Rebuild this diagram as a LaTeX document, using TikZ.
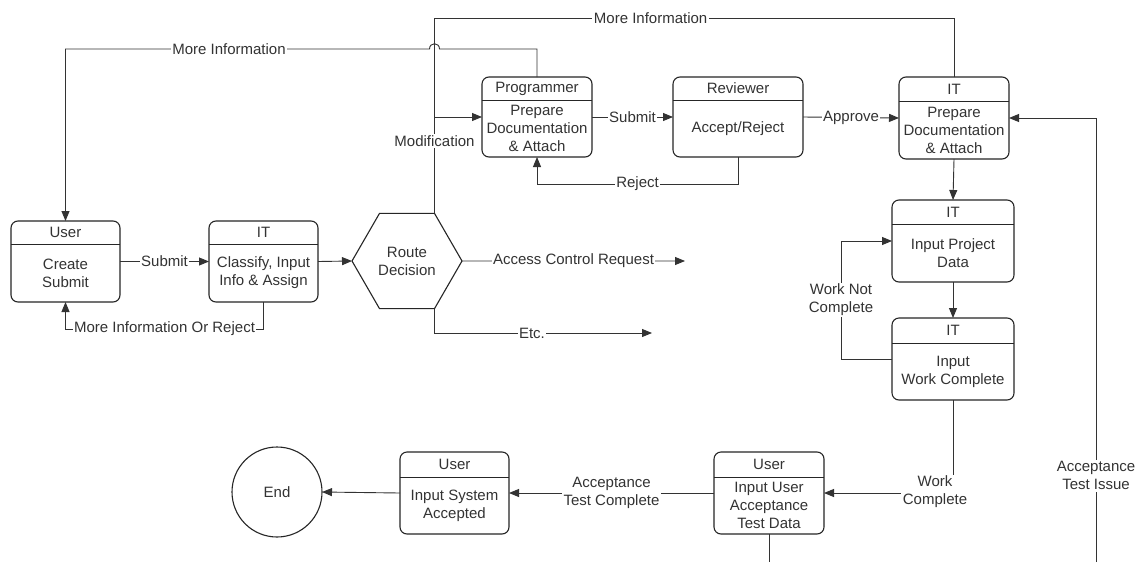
\documentclass[tikz,border=0pt]{standalone}
\usepackage{fontspec}
\setmainfont{Liberation Sans}
\usetikzlibrary{arrows.meta,shapes.geometric}
\newcommand{\procbox}[8]{%
  \node[pbox, minimum width={(#4-#2)*1pt}, minimum height={(#5-#3)*1pt}] (#1) at ({(#2+#4)/2},{(#3+#5)/2}) {};
  \draw[boxline] (#2,#6) -- (#4,#6);
  \node[txt] (#1-head) at ({(#2+#4)/2},{(#3+#6)/2}) {#7};
  \node[txt, align=center] (#1-body) at ({(#2+#4)/2},{(#6+#5)/2}) {#8};
}
\begin{document}
\begin{tikzpicture}[x=1pt,y=-1pt,
  txt/.style={font=\fontsize{15}{18}\selectfont, text=black!80, inner sep=0pt},
  pbox/.style={draw=black!85, line width=1.1pt, rounded corners=7pt, inner sep=0pt, outer sep=0pt},
  boxline/.style={draw=black!85, line width=1pt},
  conn/.style={draw=black!80, line width=0.9pt},
  arr/.style={conn, -{Triangle[length=10pt,width=8pt]}},
  lbl/.style={txt, fill=white, inner sep=1.5pt, align=center}]

\fill[white] (0,0) rectangle (1147,562);
\useasboundingbox (0,0) rectangle (1147,562);

% process boxes
\procbox{user}{11}{221}{120}{302}{244}{User}{Create\\Submit}
\procbox{itc}{209}{221}{318}{302}{244}{IT}{Classify, Input\\Info \& Assign}
\procbox{prog}{482}{77}{592}{157}{100}{Programmer}{Prepare\\Documentation\\\& Attach}
\procbox{rev}{673}{77}{803}{157}{100}{Reviewer}{Accept/Reject}
\procbox{itp}{899}{77}{1009}{159}{101}{IT}{Prepare\\Documentation\\\& Attach}
\procbox{itd}{892}{200}{1014}{282}{224}{IT}{Input Project\\Data}
\procbox{itw}{892}{318}{1014}{400}{343}{IT}{Input\\Work Complete}
\procbox{uat}{714}{452}{824}{534}{477}{User}{Input User\\Acceptance\\Test Data}
\procbox{isa}{400}{452}{509}{534}{477}{User}{Input System\\Accepted}

% decision hexagon and end
\node[txt, draw=black!85, line width=1.1pt, regular polygon, regular polygon sides=6,
      minimum size=110pt, outer sep=0pt, align=center] (hex) at (407,261) {Route\\Decision};
\node[txt, draw=black!85, line width=1.1pt, circle, minimum size=90pt, outer sep=0pt] (end) at (277,492) {End};

\coordinate (hexTR) at ([xshift=27.5pt]hex.north);
\coordinate (hexBR) at ([xshift=27.5pt]hex.south);
\coordinate (mj) at (434.5,117);
\coordinate (acr) at (685,261);
\coordinate (etc) at (652,333);
\coordinate (ati) at (1096,562);
\coordinate (uatend) at (769,562);

% connectors
\draw[arr] (user.east) -- node[lbl]{Submit} (itc.west);
\draw[arr] (itc.east) -- (hex.west);
\draw[arr] (itc.south) -- ++(0,27) -| node[lbl,pos=0.25]{More Information Or Reject} (user.south);
\draw[arr] (hex.east) -- node[lbl]{Access Control Request} (acr);
\draw[arr] (hexBR) |- node[lbl,pos=0.724]{Etc.} (etc);
\draw[arr] (hexTR) |- node[lbl,pos=0.375]{Modification} (prog.west);
\draw[conn] (itp.north) -- ++(0,-59) -| node[lbl,pos=0.292]{More Information} (mj);
\draw[arr] (prog.north) -- ++(0,-28) -- (439.5,49) .. controls (439.5,42) and (429.5,42) .. (429.5,49) -- (user.north |- 0,49) -- (user.north);
\node[lbl] (mi1) at (229,49) {More Information};
\draw[arr] (prog.east) -- node[lbl]{Submit} (rev.west);
\draw[arr] (rev.south) -- ++(0,27) -| node[lbl,pos=0.25]{Reject} (prog.south);
\draw[arr] (rev.east) -- node[lbl]{Approve} (itp.west);
\draw[arr] (itp.south) -- (itd.north);
\draw[arr] (itd.south) -- (itw.north);
\draw[arr] (itw.west) -- ++(-51,0) |- node[lbl,pos=0.25]{Work Not\\Complete} (itd.west);
\draw[arr] (itw.south) |- (uat.east);
\node[lbl] (wc) at (935,492) {Work\\Complete};
\draw[arr] (uat.west) -- node[lbl]{Acceptance\\Test Complete} (isa.east);
\draw[arr] (isa.west) -- (end.east);
\draw[conn] (uat.south) -- (uatend);
\draw[arr] (ati) |- node[lbl,pos=0.097]{Acceptance\\Test Issue} (itp.east);
\end{tikzpicture}
\end{document}
